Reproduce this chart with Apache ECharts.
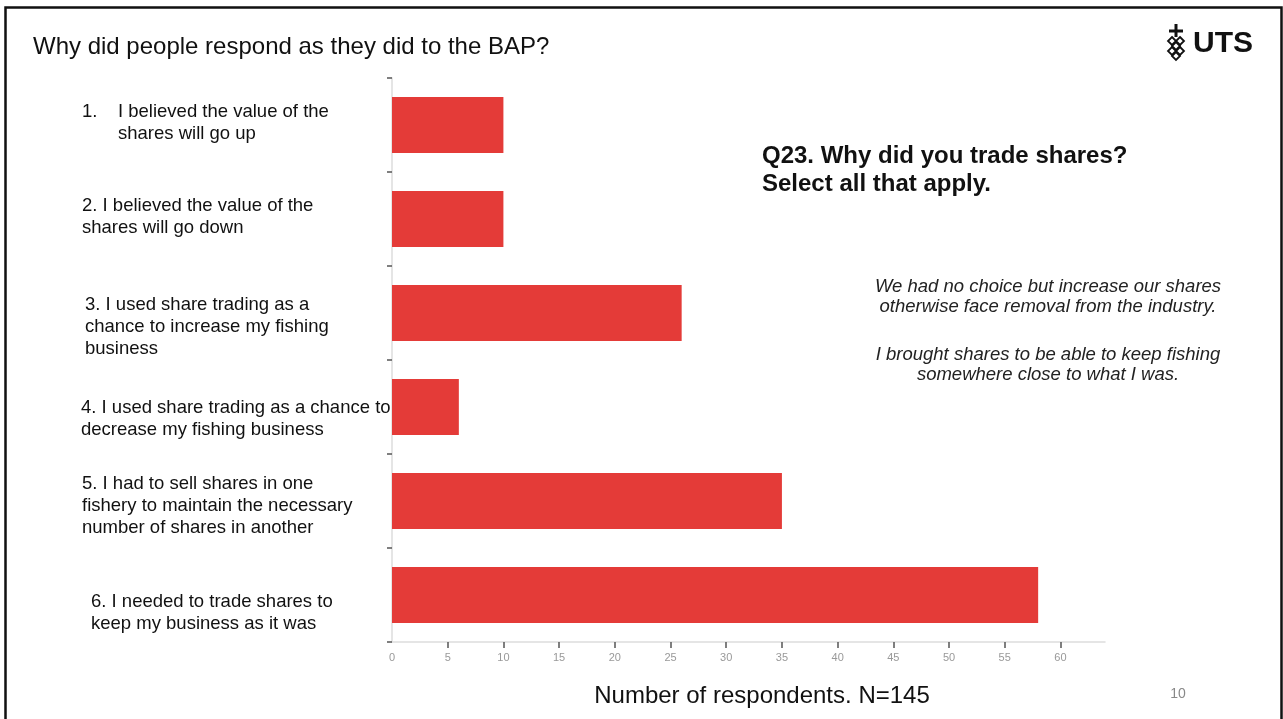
<!DOCTYPE html>
<html>
<head>
<meta charset="utf-8">
<script src="https://cdn.jsdelivr.net/npm/echarts@6/dist/echarts.min.js"></script>
<style>
  html, body { margin: 0; padding: 0; background: #fff; }
  #chart { width: 1283px; height: 719px; }
</style>
</head>
<body>
<div id="chart"></div>
<script>
// Survey answers (Q23), one bar per reason
const reasonIds = ['1', '2', '3', '4', '5', '6'];
const reasonNumbers = ['1.', '2.', '3.', '4.', '5.', '6.'];
const reasonLines = [
  ['I believed the value of the', 'shares will go up'],
  ['I believed the value of the', 'shares will go down'],
  ['I used share trading as a', 'chance to increase my fishing', 'business'],
  ['I used share trading as a chance to', 'decrease my fishing business'],
  ['I had to sell shares in one', 'fishery to maintain the necessary', 'number of shares in another'],
  ['I needed to trade shares to', 'keep my business as it was']
];
const respondents = [10, 10, 26, 6, 35, 58];
const xTickLabels = [0, 5, 10, 15, 20, 25, 30, 35, 40, 45, 50, 55, 60];
const xTickMarks = [5, 10, 15, 20, 25, 30, 35, 40, 45, 50, 55, 60];

const quotes = [
  ['We had no choice but increase our shares', 'otherwise face removal from the industry.'],
  ['I brought shares to be able to keep fishing', 'somewhere close to what I was.']
];

// label placement: left edge and vertical nudge relative to the category centre
const labelLayout = [
  { x: 82, dy: -2, hang: 36 },
  { x: 82, dy: -2 },
  { x: 85, dy: 14 },
  { x: 81, dy: 12 },
  { x: 82, dy: 5 },
  { x: 91, dy: 18 }
];

const FONT = "'Liberation Sans', Arial, Helvetica, sans-serif";
const chart = echarts.init(document.getElementById('chart'), null, { renderer: 'canvas' });

chart.setOption({
  animation: false,
  backgroundColor: '#ffffff',
  grid: { left: 392, right: 178, top: 78, bottom: 77, containLabel: false },
  xAxis: {
    type: 'value',
    min: 0,
    max: 64,
    interval: 5,
    splitLine: { show: false },
    axisLine: { show: true, lineStyle: { color: '#dddddd', width: 1.5 } },
    axisTick: { show: true, length: 6, customValues: xTickMarks, lineStyle: { color: '#555555', width: 1.5 } },
    axisLabel: { show: true, customValues: xTickLabels, color: '#999999', fontSize: 11, fontFamily: FONT, margin: 10 }
  },
  yAxis: {
    type: 'category',
    data: reasonIds,
    inverse: true,
    axisLine: { show: true, lineStyle: { color: '#dddddd', width: 1.5 } },
    axisTick: { show: true, length: 5, lineStyle: { color: '#555555', width: 1.5 } },
    axisLabel: { show: false },
    splitLine: { show: false }
  },
  series: [{
    type: 'bar',
    data: respondents,
    barWidth: 56,
    itemStyle: { color: '#e43b38' }
  }]
});

function buildGraphics() {
  const g = [];
  // slide frame
  g.push({ type: 'rect', shape: { x: 5.5, y: 7.5, width: 1276, height: 720 },
    style: { fill: 'none', stroke: '#111111', lineWidth: 2.5 }, z: 10 });

  // heading
  g.push({ type: 'text', x: 33, y: 47, style: { text: 'Why did people respond as they did to the BAP?',
    font: '24px ' + FONT, fill: '#111111', textVerticalAlign: 'middle' } });

  // UTS wordmark
  g.push({ type: 'text', x: 1193, y: 44, style: { text: 'UTS',
    font: 'bold 30px ' + FONT, fill: '#111111', textVerticalAlign: 'middle' } });
  // emblem: cross above a lattice of small diamonds
  const ex = 1176, ey = 31;
  g.push({ type: 'rect', shape: { x: ex - 1.5, y: ey - 7, width: 3, height: 13 }, style: { fill: '#111' } });
  g.push({ type: 'rect', shape: { x: ex - 7, y: ey - 1.5, width: 14, height: 3 }, style: { fill: '#111' } });
  const diamonds = [[-4, 10], [4, 10], [0, 15], [-4, 20], [4, 20], [0, 25]];
  diamonds.forEach(function (d) {
    g.push({ type: 'polygon', shape: { points: [[ex + d[0], ey + d[1] - 4], [ex + d[0] + 4, ey + d[1]], [ex + d[0], ey + d[1] + 4], [ex + d[0] - 4, ey + d[1]]] },
      style: { fill: 'none', stroke: '#111', lineWidth: 1.8 } });
  });

  // question
  g.push({ type: 'text', x: 762, y: 170, style: { text: 'Q23. Why did you trade shares?\nSelect all that apply.',
    font: 'bold 24px ' + FONT, fill: '#111111', lineHeight: 28, textVerticalAlign: 'middle' } });

  // quotes
  const qy = [297, 365];
  quotes.forEach(function (q, i) {
    g.push({ type: 'text', x: 1048, y: qy[i], style: { text: q.join('\n'),
      font: 'italic 18.5px ' + FONT, fill: '#222222', lineHeight: 20, textAlign: 'center', textVerticalAlign: 'middle' } });
  });

  // x axis caption and page number
  g.push({ type: 'text', x: 762, y: 696, style: { text: 'Number of respondents. N=145',
    font: '24px ' + FONT, fill: '#111111', textAlign: 'center', textVerticalAlign: 'middle' } });
  g.push({ type: 'text', x: 1178, y: 694, style: { text: '10',
    font: '14px ' + FONT, fill: '#888888', textAlign: 'center', textVerticalAlign: 'middle' } });

  // category labels, placed at each category's position on the y axis
  reasonIds.forEach(function (id, i) {
    const cy = chart.convertToPixel({ yAxisIndex: 0 }, id);
    const lay = labelLayout[i];
    const base = { font: '18.5px ' + FONT, fill: '#111111', lineHeight: 22, textVerticalAlign: 'middle' };
    if (lay.hang) {
      g.push({ type: 'text', x: lay.x, y: cy + lay.dy - 11, style: Object.assign({}, base, { text: reasonNumbers[i] }) });
      g.push({ type: 'text', x: lay.x + lay.hang, y: cy + lay.dy,
        style: Object.assign({}, base, { text: reasonLines[i].join('\n') }) });
    } else {
      const lines = reasonLines[i].slice();
      lines[0] = reasonNumbers[i] + ' ' + lines[0];
      g.push({ type: 'text', x: lay.x, y: cy + lay.dy, style: Object.assign({}, base, { text: lines.join('\n') }) });
    }
  });
  return g;
}

chart.setOption({ graphic: buildGraphics() });
</script>
</body>
</html>
